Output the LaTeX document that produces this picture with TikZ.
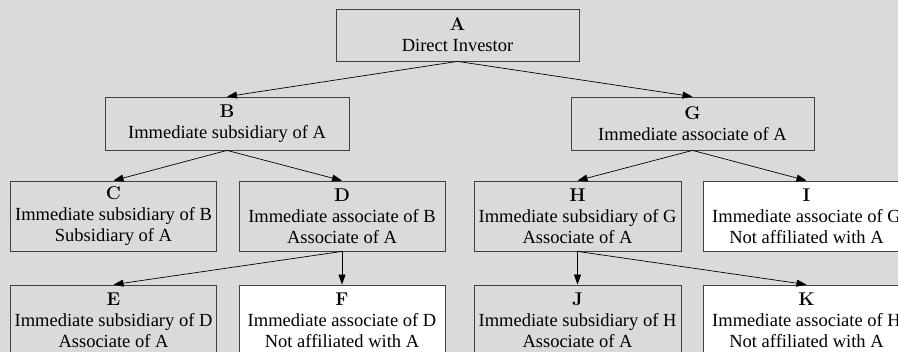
\documentclass[tikz,border=0pt]{standalone}
\usepackage{fontspec}
\newfontfamily\tnr{Liberation Serif}
\usetikzlibrary{arrows.meta}
\definecolor{bg}{RGB}{218,218,218}
\definecolor{bd}{RGB}{64,64,64}
\newcommand\ltr[1]{{\normalfont\bfseries #1}}
\begin{document}
\begin{tikzpicture}[x=1pt,y=-1pt,
  box/.style={draw=bd, line width=0.8pt, fill=bg, align=center, inner sep=0pt,
    font=\tnr\fontsize{18.5}{21}\selectfont},
  wbox/.style={box, fill=white},
  arr/.style={-{Triangle[length=10pt,width=7pt]}, line width=0.7pt, black}]
\fill[bg] (0,0) rectangle (898,352);
\useasboundingbox (0,0) rectangle (898,352);
\node[box, minimum width=243pt, minimum height=52pt] (A) at (457.5,35) {\ltr{A}\\Direct Investor};
\node[box, minimum width=244pt, minimum height=53pt] (B) at (227,123.5) {\ltr{B}\\Immediate subsidiary of A};
\node[box, minimum width=243pt, minimum height=53pt] (G) at (692.5,123.5) {\ltr{G}\\Immediate associate of A};
\node[box, minimum width=206pt, minimum height=70pt] (C) at (113.5,216) {\ltr{C}\\Immediate subsidiary of B\\Subsidiary of A};
\node[box, minimum width=206pt, minimum height=70pt] (D) at (342,216) {\ltr{D}\\Immediate associate of B\\Associate of A};
\node[box, minimum width=207pt, minimum height=70pt] (H) at (577.5,216) {\ltr{H}\\Immediate subsidiary of G\\Associate of A};
\node[wbox, minimum width=207pt, minimum height=70pt] (I) at (806.5,216) {\ltr{I}\\Immediate associate of G\\Not affiliated with A};
\node[box, minimum width=206pt, minimum height=70pt] (E) at (113.5,320) {\ltr{E}\\Immediate subsidiary of D\\Associate of A};
\node[wbox, minimum width=206pt, minimum height=70pt] (F) at (342,320) {\ltr{F}\\Immediate associate of D\\Not affiliated with A};
\node[box, minimum width=207pt, minimum height=70pt] (J) at (577.5,320) {\ltr{J}\\Immediate subsidiary of H\\Associate of A};
\node[wbox, minimum width=207pt, minimum height=70pt] (K) at (806.5,320) {\ltr{K}\\Immediate associate of H\\Not affiliated with A};
\draw[arr] (A.south) -- (B.north);
\draw[arr] (A.south) -- (G.north);
\draw[arr] (B.south) -- (C.north);
\draw[arr] (B.south) -- (D.north);
\draw[arr] (G.south) -- (H.north);
\draw[arr] (G.south) -- (I.north);
\draw[arr] (D.south) -- (E.north);
\draw[arr] (D.south) -- (F.north);
\draw[arr] (H.south) -- (J.north);
\draw[arr] (H.south) -- (K.north);
\end{tikzpicture}
\end{document}
